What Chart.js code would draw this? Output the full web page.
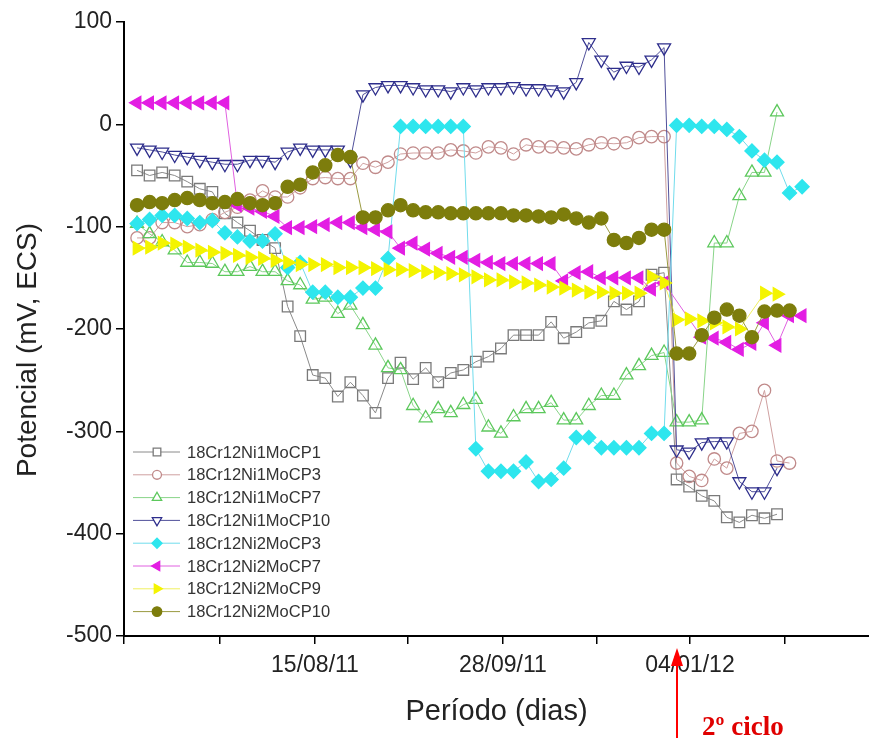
<!DOCTYPE html>
<html>
<head>
<meta charset="utf-8">
<script src="https://cdn.jsdelivr.net/npm/chart.js@4.4.0/dist/chart.umd.min.js"></script>
<style>
  html, body { margin: 0; padding: 0; background: #fff; }
  #wrap { width: 869px; height: 738px; }
</style>
</head>
<body>
<div id="wrap"><canvas id="chart" width="869" height="738"></canvas></div>
<script>
'use strict';

// x = measurement number on a shared grid (first cycle 0..42, second cycle 43..53)
const xTickValues = [-1.04, 6.61, 14.18, 21.59, 29.16, 36.65, 44.06, 51.63];
const xTickLabels = ['', '', '15/08/11', '', '28/09/11', '', '04/01/12', ''];
const yTickMin = -500;
const yTickMax = 100;

const seriesNames = [
  '18Cr12Ni1MoCP1', '18Cr12Ni1MoCP3', '18Cr12Ni1MoCP7', '18Cr12Ni1MoCP10',
  '18Cr12Ni2MoCP3', '18Cr12Ni2MoCP7', '18Cr12Ni2MoCP9', '18Cr12Ni2MoCP10',
];

const ni1CP1 = [-45, -50, -47, -50, -56, -63, -66, -87, -96, -104, -113, -121, -178, -207, -245, -248, -266, -252, -265, -282,
  -248, -233, -249, -238, -252, -243, -240, -232, -227, -219, -206, -206, -206, -193, -209, -203, -194, -192, -173, -181,
  -173, -147, -145, -347, -354, -363, -368, -384, -389, -382, -385, -381, null, null];
const ni1CP3 = [-111, -111, -96, -96, -100, -98, -93, -86, -81, -74, -65, -71, -71, -62, -53, -52, -53, -53, -38, -42,
  -37, -29, -28, -28, -28, -25, -26, -28, -22, -23, -29, -20, -22, -22, -23, -24, -20, -18, -19, -18,
  -13, -12, -12, -331, -344, -348, -327, -336, -302, -300, -260, -329, -331, null];
const ni1CP7 = [-97, -107, -115, -123, -135, -135, -136, -144, -144, -139, -144, -144, -153, -157, -171, -169, -185, -177, -196, -216,
  -238, -240, -275, -287, -278, -282, -274, -269, -296, -302, -286, -278, -278, -272, -289, -289, -275, -265, -265, -245,
  -236, -226, -223, -291, -291, -289, -116, -116, -70, -47, -47, 12, null, null];
const ni1CP10 = [-23, -25, -27, -30, -32, -35, -37, -39, -39, -35, -35, -37, -27, -23, -25, -25, -25, -35, 29, 36,
  38, 38, 36, 34, 34, 32, 36, 34, 36, 36, 37, 35, 35, 34, 32, 41, 80, 63, 51, 57,
  56, 63, 75, -318, -320, -311, -310, -310, -349, -359, -359, -336, null, null];
const ni2CP3 = [-97, -93, -89, -89, -92, -96, -94, -106, -110, -114, -114, -107, -140, -135, -164, -164, -169, -169, -160, -160,
  -131, -2, -2, -2, -2, -2, -2, -317, -339, -339, -339, -330, -349, -347, -336, -306, -306, -316, -316, -316,
  -316, -302, -302, -1, -1, -2, -2, -5, -12, -26, -35, -37, -67, -61];
const ni2CP7 = [21, 21, 21, 21, 21, 21, 21, 21, -79, -82, -85, -90, -101, -101, -100, -98, -96, -96, -101, -103,
  -105, -121, -116, -122, -126, -130, -130, -133, -135, -136, -136, -136, -136, -136, -153, -145, -144, -150, -150, -150,
  -150, -161, -155, null, null, -208, -209, -213, -220, -214, -194, -216, -187, -187];
const ni2CP9 = [-121, -120, -116, -117, -120, -123, -125, -126, -128, -130, -131, -133, -135, -137, -137, -137, -140, -140, -140, -141,
  -142, -142, -143, -144, -145, -146, -147, -149, -152, -152, -154, -155, -157, -159, -160, -162, -164, -164, -165, -165,
  -165, -149, -155, -191, -190, -192, -194, -198, -200, null, -165, -166, null, null];
const ni2CP10 = [-79, -76, -77, -74, -72, -74, -77, -76, -73, -77, -79, -77, -61, -59, -47, -40, -30, -32, -91, -91,
  -84, -79, -84, -86, -86, -87, -87, -87, -87, -87, -89, -89, -90, -91, -88, -92, -96, -92, -113, -116,
  -111, -103, -103, -224, -224, -206, -189, -181, -187, -208, -183, -182, -182, null];

const seriesValues = [ni1CP1, ni1CP3, ni1CP7, ni1CP10, ni2CP3, ni2CP7, ni2CP9, ni2CP10];

// marker look per series, same order as seriesNames
const MARKERS = [
  { style: 'rect',     rot: 0,   fill: false, color: '#7a7a7a', line: '#8a8a8a', r: 7.5 },
  { style: 'circle',   rot: 0,   fill: false, color: '#c08a8a', line: '#cfa0a0', r: 6.2 },
  { style: 'triangle', rot: 0,   fill: false, color: '#5cc85c', line: '#88d488', r: 7.5 },
  { style: 'triangle', rot: 180, fill: false, color: '#2e2e8c', line: '#50509a', r: 7.5 },
  { style: 'rectRot',  rot: 0,   fill: true,  color: '#2ee6ee', line: '#70dcec', r: 7 },
  { style: 'triangle', rot: 270, fill: true,  color: '#e31ee3', line: '#e060e0', r: 7.5 },
  { style: 'triangle', rot: 90,  fill: true,  color: '#f4f400', line: '#f0f060', r: 7.5 },
  { style: 'circle',   rot: 0,   fill: true,  color: '#7d7d0c', line: '#9a9a40', r: 6.6 },
];

const FONT = "'Liberation Sans', Arial, sans-serif";

const datasets = seriesValues.map((vals, k) => {
  const m = MARKERS[k];
  return {
    label: seriesNames[k],
    data: vals.map((v, i) => ({ x: i, y: v })),
    borderColor: m.line,
    borderWidth: 1,
    pointStyle: m.style,
    pointRotation: m.rot,
    pointRadius: m.r,
    pointHoverRadius: m.r,
    pointBorderColor: m.color,
    pointBorderWidth: 1.3,
    pointBackgroundColor: m.fill ? m.color : 'rgba(255,255,255,0)',
    spanGaps: true,
    tension: 0,
    order: seriesNames.length - k,
  };
});

// legend drawn inside the plot, lower left
const legendInside = {
  id: 'legendInside',
  afterDatasetsDraw(chart) {
    const ctx = chart.ctx;
    ctx.save();
    seriesNames.forEach((name, k) => {
      const m = MARKERS[k];
      const y = 452 + k * 22.8;
      ctx.strokeStyle = m.line;
      ctx.lineWidth = 1;
      ctx.beginPath();
      ctx.moveTo(133, y);
      ctx.lineTo(180, y);
      ctx.stroke();
      ctx.fillStyle = m.fill ? m.color : '#fff';
      ctx.strokeStyle = m.color;
      ctx.lineWidth = 1.3;
      Chart.helpers.drawPoint(ctx, { pointStyle: m.style, rotation: m.rot, radius: m.r * 0.72, borderWidth: 1.3 }, 157, y);
      ctx.fillStyle = '#333';
      ctx.font = '16.5px ' + FONT;
      ctx.textAlign = 'left';
      ctx.textBaseline = 'middle';
      ctx.fillText(name, 187, y + 1);
    });
    ctx.restore();
  },
};

// y title sits a bit below the axis middle in the original, so it is drawn here
const yTitle = {
  id: 'yTitle',
  afterDraw(chart) {
    const ctx = chart.ctx;
    ctx.save();
    ctx.translate(28, 350);
    ctx.rotate(-Math.PI / 2);
    ctx.font = '28px ' + FONT;
    ctx.fillStyle = '#222';
    ctx.textAlign = 'center';
    ctx.textBaseline = 'middle';
    ctx.fillText('Potencial (mV, ECS)', 0, 0);
    ctx.restore();
  },
};

// red arrow marking the start of the second cycle
const cycleArrow = {
  id: 'cycleArrow',
  afterDraw(chart) {
    const ctx = chart.ctx;
    const x = 677;
    ctx.save();
    ctx.strokeStyle = '#ff0000';
    ctx.fillStyle = '#ff0000';
    ctx.lineWidth = 2;
    ctx.beginPath();
    ctx.moveTo(x, 738);
    ctx.lineTo(x, 662);
    ctx.stroke();
    ctx.beginPath();
    ctx.moveTo(x, 648);
    ctx.lineTo(x - 6, 666);
    ctx.lineTo(x + 6, 666);
    ctx.closePath();
    ctx.fill();
    ctx.font = "bold 27px 'Liberation Serif', 'Times New Roman', serif";
    ctx.fillStyle = '#e00000';
    ctx.textBaseline = 'alphabetic';
    ctx.fillText('2º ciclo', 702, 735);
    ctx.restore();
  },
};

new Chart(document.getElementById('chart'), {
  type: 'line',
  data: { datasets },
  plugins: [legendInside, yTitle, cycleArrow],
  options: {
    responsive: false,
    animation: false,
    devicePixelRatio: 1,
    layout: { autoPadding: false, padding: { top: 22, right: 0, left: 0, bottom: 0 } },
    plugins: {
      legend: { display: false },
      tooltip: { enabled: false },
    },
    scales: {
      x: {
        type: 'linear',
        min: -1.04,
        max: 58.33,
        afterBuildTicks: axis => { axis.ticks = xTickValues.map(v => ({ value: v })); },
        afterFit: axis => { axis.height = 102; },
        ticks: {
          autoSkip: false,
          maxRotation: 0,
          padding: 8,
          color: '#222',
          font: { family: FONT, size: 23 },
          callback: (val, idx) => xTickLabels[idx],
        },
        grid: { drawOnChartArea: false, drawTicks: true, tickLength: 8, color: '#000', lineWidth: 1.5 },
        border: { display: true, color: '#000', width: 2 },
        title: {
          display: true,
          text: 'Período (dias)',
          color: '#222',
          font: { family: FONT, size: 29 },
          padding: { top: 0, bottom: 9 },
        },
      },
      y: {
        min: yTickMin,
        max: yTickMax,
        afterFit: axis => { axis.width = 124; },
        ticks: {
          stepSize: 100,
          padding: 4,
          color: '#222',
          font: { family: FONT, size: 23 },
          callback: v => String(v),
        },
        grid: { drawOnChartArea: false, drawTicks: true, tickLength: 8, color: '#000', lineWidth: 1.5 },
        border: { display: true, color: '#000', width: 2 },
        title: { display: false },
      },
    },
  },
});
</script>
</body>
</html>
